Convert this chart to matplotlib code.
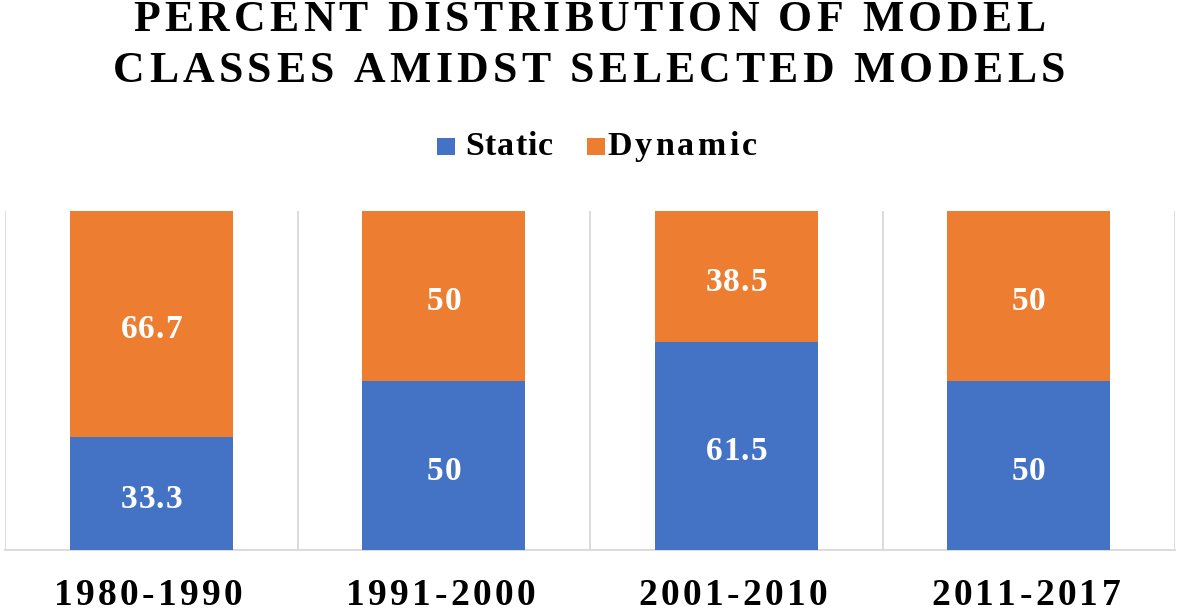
import matplotlib
matplotlib.use('Agg')
import matplotlib.pyplot as plt
from matplotlib.font_manager import FontProperties, findfont, get_font
from matplotlib.patches import Rectangle
import numpy as np

periods = ['1980-1990', '1991-2000', '2001-2010', '2011-2017']
static = [33.3, 50, 61.5, 50]
dynamic = [66.7, 50, 38.5, 50]
series_names = ['Static', 'Dynamic']
title_lines = ['PERCENT DISTRIBUTION OF MODEL', 'CLASSES AMIDST SELECTED MODELS']

W, H = 1181, 612
DPI = 100
BLUE = '#4472C4'
ORANGE = '#ED7D31'
GRID = '#D9D9D9'
SERIF = 'Liberation Serif'

fig = plt.figure(figsize=(W / DPI, H / DPI), dpi=DPI)


def advances(s, size_pt):
    prop = FontProperties(family=SERIF, weight='bold', size=size_pt)
    font = get_font(findfont(prop))
    font.set_size(size_pt, DPI)
    return [font.load_char(ord(c)).linearHoriAdvance / 65536 for c in s]


def spaced(s, baseline, size_pt, cx=None, left=None, width=None, spacing=0.0, color='black'):
    adv = advances(s, size_pt)
    nat = sum(adv)
    if width is not None and len(s) > 1:
        spacing = (width - nat) / (len(s) - 1)
    total = nat + spacing * (len(s) - 1)
    x = left if left is not None else cx - total / 2
    for c, a in zip(s, adv):
        if c != ' ':
            fig.text(x / W, 1 - baseline / H, c, ha='left', va='baseline',
                     fontsize=size_pt, fontfamily=SERIF, fontweight='bold', color=color)
        x += a + spacing


# axes
ax = fig.add_axes([5 / W, 62 / H, 1170 / W, 339 / H])
x = np.arange(len(periods))
bw = 0.557
ax.bar(x, static, width=bw, color=BLUE, zorder=3)
ax.bar(x, dynamic, width=bw, bottom=static, color=ORANGE, zorder=3)
ax.set_xlim(-0.5, len(periods) - 0.5)
ax.set_ylim(0, 100)
ax.set_xticks([])
ax.set_yticks([])
ax.set_xticks(np.arange(-0.5, len(periods), 1), minor=True)
ax.tick_params(which='minor', length=0)
ax.grid(which='minor', axis='x', color=GRID, lw=1.3, zorder=0)
for sp in ['top', 'left', 'right']:
    ax.spines[sp].set_visible(False)
ax.spines['bottom'].set_color(GRID)
ax.spines['bottom'].set_linewidth(1.3)

fig.canvas.draw()


def to_px(xd, yd):
    dx, dy = ax.transData.transform((xd, yd))
    return dx, H - dy


# data labels
lab_size = 24
digit_h = 0.676 * lab_size * DPI / 72
for i in range(len(periods)):
    for bottom, val in [(0, static[i]), (static[i], dynamic[i])]:
        cx, cy = to_px(i, bottom + val / 2)
        txt = f'{val:g}'
        spaced(txt, cy + digit_h / 2 + 3, lab_size, cx=cx, spacing=1.0, color='white')

# category labels
for i, p in enumerate(periods):
    cx, _ = to_px(i, 0)
    spaced(p, 605, 27, cx=cx - 3, width=189)

# title
spaced(title_lines[0], 31, 31.5, cx=589, width=912)
spaced(title_lines[1], 82, 31.5, cx=589, width=952)

# legend
leg = [(series_names[0], BLUE, 437, 465, 88), (series_names[1], ORANGE, 587, 607, 150)]
for name, col, sqx, tx, tw in leg:
    fig.patches.append(Rectangle((sqx / W, 1 - 155 / H), 18 / W, 17 / H,
                                 transform=fig.transFigure, facecolor=col, edgecolor='none'))
    spaced(name, 155, 24.5, left=tx, width=tw)

fig.savefig('out.png', dpi=DPI)
